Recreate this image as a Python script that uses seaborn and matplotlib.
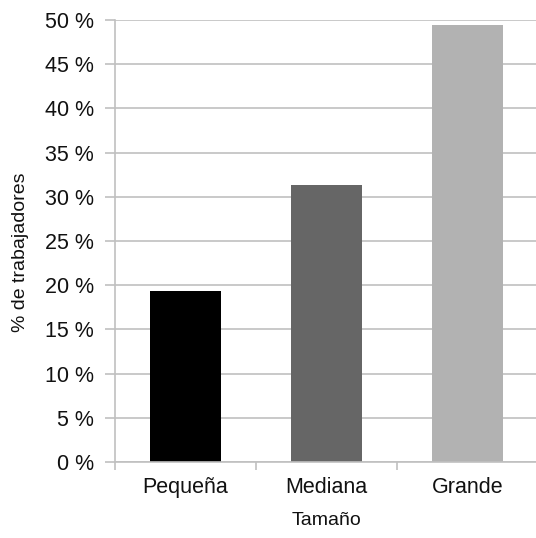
import numpy as np
import pandas as pd
import matplotlib
matplotlib.use("Agg")
import matplotlib.pyplot as plt
from matplotlib.ticker import FixedLocator, FuncFormatter
import seaborn as sns

# Data
categorias = ["Pequeña", "Mediana", "Grande"]
porcentajes = [19.35, 31.3, 49.4]
colores = ["#000000", "#666666", "#b2b2b2"]

df = pd.DataFrame({"Tamaño": categorias, "pct": porcentajes})

sns.set_style("white")
plt.rcParams["font.family"] = ["Liberation Sans", "DejaVu Sans"]

fig = plt.figure(figsize=(5.36, 5.38), dpi=100)
ax = fig.add_axes([0.2146, 0.1413, 0.789, 0.8215])

sns.barplot(data=df, x="Tamaño", y="pct", hue="Tamaño", palette=colores,
            width=0.5, legend=False, ax=ax, saturation=1, linewidth=0)

ax.set_xlim(-0.5, 2.5)
ax.set_ylim(0, 50)
ax.set_yticks(np.arange(0, 51, 5))
ax.yaxis.set_major_formatter(FuncFormatter(lambda v, p: f"{int(v)} %"))
ax.grid(axis="y", color="#c0c0c0", linewidth=1.2)
ax.set_axisbelow(True)

for s in ["top", "right"]:
    ax.spines[s].set_visible(False)
for s in ["left", "bottom"]:
    ax.spines[s].set_color("#c0c0c0")
    ax.spines[s].set_linewidth(1.2)

ax.tick_params(axis="y", direction="out", length=7, width=1.2, color="#c0c0c0",
               labelsize=15.5, pad=8, left=True, labelcolor="#111111")
ax.tick_params(axis="x", which="major", length=0, labelsize=15.5, pad=11,
               labelcolor="#111111")
ax.xaxis.set_minor_locator(FixedLocator([-0.5, 0.5, 1.5, 2.5]))
ax.tick_params(axis="x", which="minor", direction="out", length=6, width=1.2,
               color="#c0c0c0", bottom=True)

ax.set_xlabel("Tamaño", fontsize=14, labelpad=10, color="#111111")
ax.set_ylabel("% de trabajadores", fontsize=14, color="#111111")
ax.yaxis.set_label_coords(-0.203, 0.475)

fig.savefig("out.png", dpi=100)
